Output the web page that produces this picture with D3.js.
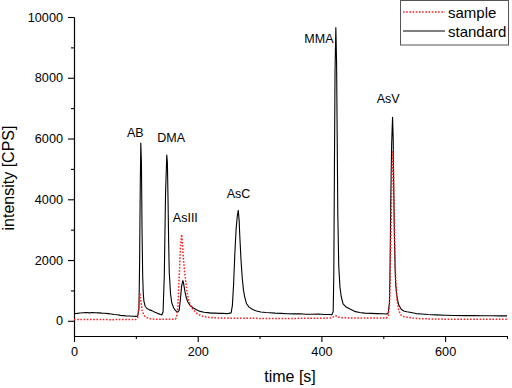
<!DOCTYPE html>
<html>
<head>
<meta charset="utf-8">
<script src="https://cdn.jsdelivr.net/npm/d3@7"></script>
<style>
  body { margin: 0; background: #fff; }
  text { font-family: "Liberation Sans", Arial, sans-serif; fill: #000; }
</style>
</head>
<body>
<div id="chart-area"></div>
<script>
// Data
// ****
const standardTime = [0, 5, 10, 15, 20, 25, 30, 35, 40, 45, 50, 55, 60, 65, 70, 75, 80, 85, 90, 95, 100, 103,
  105, 106, 107, 108, 109, 110, 111, 112, 113, 115, 118, 122, 126, 130, 135, 140, 142, 144, 146, 148, 150, 151,
  152, 153, 154, 156, 158, 161, 164, 166, 168, 170, 172, 174, 176, 177, 179, 181, 184, 188, 193, 198, 204, 210,
  216, 222, 228, 234, 240, 246, 250, 254, 256, 258, 260, 262, 264, 265.5, 267, 268, 270, 272, 274, 276, 279,
  283, 289, 295, 302, 310, 317, 325, 335, 345, 355, 365, 375, 385, 395, 405, 412, 417, 419, 420, 421, 422,
  423.3, 424.5, 425.5, 426.5, 428, 430, 432, 435, 440, 447, 455, 462, 470, 480, 490, 500, 505, 508, 510, 511,
  512, 513.5, 515, 516, 517, 518, 519, 520, 522, 525, 529, 533, 538, 545, 553, 562, 572, 585, 600, 615, 630,
  645, 660, 675, 690, 700]
const standardValues = [240, 245, 255, 265, 272, 262, 276, 266, 262, 252, 250, 238, 224, 208, 198, 178, 172, 158, 156, 148, 146, 152,
  400, 1800, 4200, 5850, 5200, 3000, 1500, 900, 650, 480, 405, 360, 335, 290, 245, 205, 192, 300, 1500, 4200, 5460, 5200,
  4000, 2600, 1600, 900, 600, 430, 340, 300, 295, 340, 700, 1150, 1325, 1250, 1000, 800, 620, 500, 420, 362, 310, 282,
  268, 252, 258, 246, 250, 238, 246, 262, 500, 1200, 2200, 3000, 3450, 3640, 3300, 2800, 2000, 1400, 1000, 780, 560,
  450, 372, 322, 292, 272, 266, 252, 244, 232, 228, 232, 218, 218, 222, 208, 206, 204, 300, 1500, 5000, 8200,
  9650, 8500, 6000, 3500, 1800, 1100, 800, 560, 452, 378, 302, 276, 252, 246, 238, 232, 224, 260, 600, 1800,
  3800, 5800, 6700, 6000, 4200, 2800, 1800, 1200, 800, 520, 382, 322, 298, 272, 238, 222, 206, 194, 182, 176, 170,
  174, 166, 166, 164, 162]

const sampleTime = [0, 10, 20, 30, 40, 50, 60, 70, 80, 90, 100, 103, 105, 106.5, 108, 110, 113, 117, 122, 130,
  140, 150, 160, 164, 166, 168, 170, 172, 174, 175.5, 177, 179, 182, 185, 189, 193, 200, 209, 220, 230, 245,
  260, 280, 300, 320, 340, 360, 380, 400, 415, 420, 423, 426, 432, 445, 460, 480, 495, 505, 508, 510, 512,
  514, 515.5, 517, 518.5, 520, 522, 525, 528, 534, 548, 560, 580, 600, 630, 660, 700]
const sampleValues = [40, 42, 45, 40, 42, 40, 38, 40, 42, 40, 45, 100, 500, 910, 700, 350, 180, 110, 70, 55,
  50, 52, 55, 60, 120, 500, 1400, 2400, 2840, 2500, 2000, 1580, 1050, 690, 480, 360, 220, 140, 110, 95, 90,
  85, 85, 80, 80, 78, 80, 82, 85, 90, 140, 170, 130, 100, 95, 92, 90, 92, 95, 150, 500, 2500,
  4800, 5600, 4300, 2600, 1400, 700, 350, 200, 130, 90, 70, 60, 55, 55, 52, 50]

const peakNames = ["AB", "DMA", "AsIII", "AsC", "MMA", "AsV"]
const peakLabelTime = [99, 157, 180, 266, 396, 508]
const peakLabelValue = [6050, 5890, 3250, 4040, 9140, 7170]

const xMajorTicks = [0, 200, 400, 600]
const xMinorTicks = [100, 300, 500, 700]
const yMajorTicks = [0, 2000, 4000, 6000, 8000, 10000]
const yMinorTicks = [1000, 3000, 5000, 7000, 9000]

// Config
// ******
const margin = {top: 17, right: 5, bottom: 52, left: 74}
const width = 433, height = 319

const svg = d3.select("#chart-area")
  .append("svg")
    .attr("width", 512)
    .attr("height", 388)

const g = svg.append("g")
  .attr("transform", "translate(" + margin.left + ", " + margin.top + ")")

const x = d3.scaleLinear().domain([0, 700]).range([0, width])
const y = d3.scaleLinear().domain([-500, 10000]).range([height, 0])

// Axes
// ****
function styleAxis(sel) {
  sel.select(".domain").attr("stroke", "#000").attr("stroke-width", 1.1)
  sel.selectAll(".tick line").attr("stroke", "#000").attr("stroke-width", 1.1)
  sel.selectAll("text").style("font-size", "12.7px").attr("fill", "#000")
}

g.append("g")
  .attr("transform", "translate(0, " + height + ")")
  .call(d3.axisBottom(x).tickValues(xMinorTicks).tickSize(3).tickSizeOuter(0).tickFormat(""))
  .call(styleAxis)
g.append("g")
  .attr("transform", "translate(0, " + height + ")")
  .call(d3.axisBottom(x).tickValues(xMajorTicks).tickSize(6).tickPadding(5).tickSizeOuter(0).tickFormat(d3.format("d")))
  .call(styleAxis)

g.append("g")
  .call(d3.axisLeft(y).tickValues(yMinorTicks).tickSize(3).tickSizeOuter(0).tickFormat(""))
  .call(styleAxis)
g.append("g")
  .call(d3.axisLeft(y).tickValues(yMajorTicks).tickSize(6).tickPadding(5).tickSizeOuter(0).tickFormat(d3.format("d")))
  .call(styleAxis)

// Labels
svg.append("text")
  .attr("x", 290)
  .attr("y", 382)
  .attr("text-anchor", "middle")
  .style("font-size", "16px")
  .text("time [s]")

svg.append("text")
  .attr("transform", "translate(13.5, 178) rotate(-90)")
  .attr("text-anchor", "middle")
  .style("font-size", "16px")
  .text("intensity [CPS]")

// Lines
// *****
const line = d3.line()
  .x(d => x(d[0]))
  .y(d => y(d[1]))

const sampleData = sampleTime.map((t, i) => [t, sampleValues[i]])
const standardData = standardTime.map((t, i) => [t, standardValues[i]])

g.append("path")
  .datum(standardData)
  .attr("fill", "none")
  .attr("stroke", "#000")
  .attr("stroke-width", 1.1)
  .attr("stroke-linejoin", "round")
  .attr("d", line)

g.append("path")
  .datum(sampleData)
  .attr("fill", "none")
  .attr("stroke", "#ff2020")
  .attr("stroke-width", 1.5)
  .attr("stroke-dasharray", "1.6,1.6")
  .attr("d", line)

// Peak names
g.selectAll(".peak-label")
  .data(peakNames)
  .enter().append("text")
    .attr("class", "peak-label")
    .attr("x", (d, i) => x(peakLabelTime[i]))
    .attr("y", (d, i) => y(peakLabelValue[i]))
    .attr("text-anchor", "middle")
    .style("font-size", "12.5px")
    .text(d => d)

// Legend
// ******
const legend = svg.append("g")
legend.append("rect")
  .attr("x", 400.5).attr("y", 0.5)
  .attr("width", 108).attr("height", 44.5)
  .attr("fill", "#fff")
  .attr("stroke", "#555")

legend.append("line")
  .attr("x1", 403).attr("x2", 445).attr("y1", 12).attr("y2", 12)
  .attr("stroke", "#ff2020").attr("stroke-width", 1.5).attr("stroke-dasharray", "1.6,1.6")
legend.append("line")
  .attr("x1", 403).attr("x2", 445).attr("y1", 31).attr("y2", 31)
  .attr("stroke", "#000").attr("stroke-width", 1.1)

legend.append("text").attr("x", 448).attr("y", 17.5).style("font-size", "15px").text("sample")
legend.append("text").attr("x", 448).attr("y", 36.5).style("font-size", "15px").text("standard")
</script>
</body>
</html>
